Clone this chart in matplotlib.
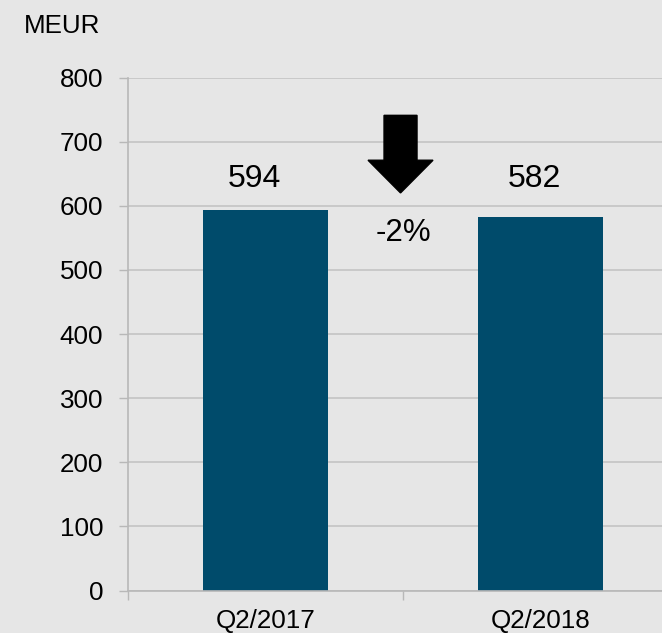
import matplotlib
matplotlib.use("Agg")
import matplotlib.pyplot as plt
from matplotlib.patches import FancyArrow

categories = ["Q2/2017", "Q2/2018"]
values = [594, 582]
change_label = "-2%"
unit_label = "MEUR"
yticks = [0, 100, 200, 300, 400, 500, 600, 700, 800]

BG = "#e6e6e6"
BAR = "#004b6b"
GRID = "#c4c4c4"
AXIS = "#b8b8b8"

plt.rcParams['font.family'] = ['Liberation Sans', 'DejaVu Sans']

fig = plt.figure(figsize=(6.62, 6.33), dpi=100, facecolor=BG)
W, H = 662, 633
left, right, bottom, top = 128, 678, 590.5, 77.5
ax = fig.add_axes([left / W, (H - bottom) / H, (right - left) / W, (bottom - top) / H])
ax.set_facecolor(BG)

x = list(range(len(categories)))
ax.bar(x, values, width=0.458, color=BAR, zorder=3)
ax.set_xlim(-0.5, 1.5)
ax.set_ylim(0, 800)
ax.set_yticks(yticks)
ax.set_xticks([-0.5, 0.5, 1.5], minor=False)
ax.set_xticklabels([])
ax.set_xticks(x, minor=True)
ax.set_xticklabels(categories, minor=True)
ax.tick_params(axis='x', which='minor', length=0, pad=13.5, labelsize=18.7)
ax.tick_params(axis='x', which='major', length=6.5, color=AXIS, width=1)
ax.tick_params(axis='y', length=6.5, color=AXIS, width=1, pad=11.5, labelsize=18.7)
ax.yaxis.grid(True, color=GRID, linewidth=1.2, zorder=0)
for s in ['top', 'right']:
    ax.spines[s].set_visible(False)
for s in ['left', 'bottom']:
    ax.spines[s].set_color(AXIS)
    ax.spines[s].set_linewidth(1.2)
ax.spines['bottom'].set_zorder(4)

offsets = [-0.04, -0.022]
for xi, v, off in zip(x, values, offsets):
    ax.text(xi + off, 629, f"{v}", ha='center', va='baseline', fontsize=23)

# arrow
ax.add_patch(FancyArrow(0.491, 741, 0, -121, width=33 / 275, head_width=65 / 275,
                        head_length=51, length_includes_head=True,
                        color='black', zorder=5))
ax.text(0.5, 557, change_label, ha='center', va='center', fontsize=22.5)

fig.text(24 / W, (H - 33) / H, unit_label, ha='left', va='baseline', fontsize=18.7)

fig.savefig("out.png", dpi=100, facecolor=BG)
